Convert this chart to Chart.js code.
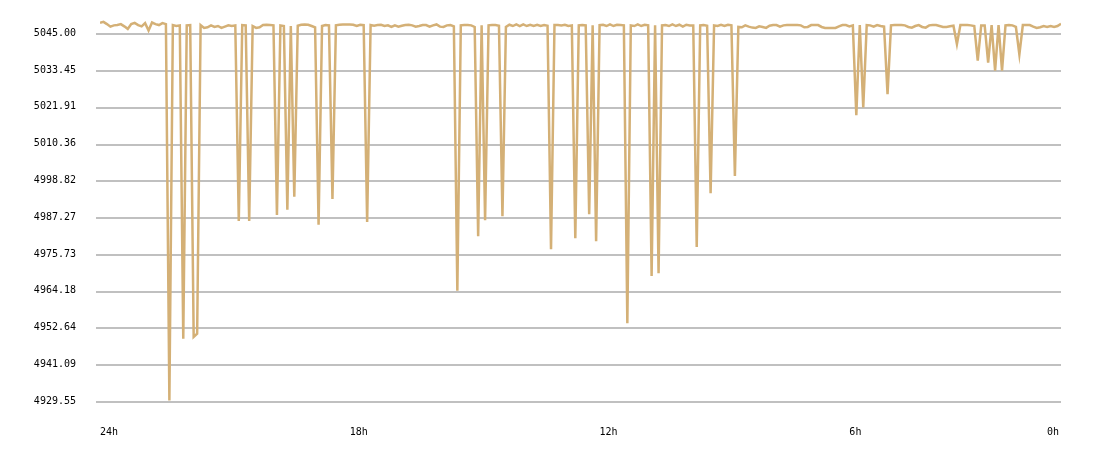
<!DOCTYPE html>
<html>
<head>
<meta charset="utf-8">
<script src="https://cdn.jsdelivr.net/npm/chart.js@4"></script>
<style>
  html, body { margin: 0; padding: 0; background: #fff; }
  #chart { display: block; }
</style>
</head>
<body>
<canvas id="chart" width="1100" height="458"></canvas>
<script>
// one reading every 5 minutes, oldest first
const values = [
  5048.6, 5048.9, 5048.2, 5047.4, 5047.8, 5047.9, 5048.2, 5047.5, 5046.7, 5048.2,
  5048.6, 5047.9, 5047.5, 5048.5, 5046.2, 5048.7, 5048.2, 5047.9, 5048.5, 5048.2,
  4930.0, 5047.9, 5047.6, 5047.8, 4949.4, 5047.8, 5047.9, 4950.0, 4951.0, 5047.9,
  5047.0, 5047.2, 5047.8, 5047.3, 5047.6, 5047.0, 5047.4, 5047.8, 5047.6, 5047.8,
  4986.4, 5047.9, 5047.8, 4986.4, 5047.6, 5047.0, 5047.2, 5047.9, 5048.0, 5047.9,
  5047.8, 4988.3, 5047.8, 5047.6, 4989.9, 5047.6, 4994.0, 5047.7, 5048.0, 5048.1,
  5048.0, 5047.6, 5047.2, 4985.2, 5047.6, 5047.9, 5047.8, 4993.3, 5047.8, 5048.0,
  5048.1, 5048.1, 5048.1, 5048.0, 5047.6, 5048.0, 5047.9, 4986.1, 5047.9, 5047.7,
  5047.9, 5048.0, 5047.6, 5047.8, 5047.3, 5047.8, 5047.4, 5047.7, 5047.9, 5048.0,
  5047.8, 5047.4, 5047.6, 5047.9, 5047.9, 5047.4, 5047.8, 5048.1, 5047.4, 5047.3,
  5047.8, 5047.9, 5047.5, 4964.5, 5047.8, 5047.9, 5047.9, 5047.8, 5047.3, 4981.6,
  5047.8, 4986.6, 5047.8, 5047.9, 5047.9, 5047.7, 4987.9, 5047.3, 5048.0, 5047.6,
  5048.1, 5047.6, 5048.1, 5047.6, 5048.0, 5047.6, 5048.0, 5047.6, 5047.9, 5047.7,
  4977.5, 5047.9, 5047.9, 5047.8, 5048.0, 5047.6, 5047.8, 4981.0, 5047.8, 5047.9,
  5047.8, 4988.5, 5047.8, 4980.0, 5047.9, 5048.0, 5047.6, 5048.1, 5047.6, 5048.0,
  5047.9, 5047.8, 4954.3, 5047.8, 5047.6, 5048.1, 5047.6, 5048.0, 5047.8, 4969.1,
  5047.8, 4970.0, 5047.8, 5047.9, 5047.6, 5048.1, 5047.6, 5048.0, 5047.4, 5048.0,
  5047.8, 5047.8, 4978.2, 5047.8, 5047.9, 5047.7, 4995.1, 5047.8, 5047.6, 5048.0,
  5047.6, 5048.0, 5047.8, 5000.5, 5047.3, 5047.2, 5047.8, 5047.4, 5047.1, 5047.0,
  5047.5, 5047.3, 5047.0, 5047.7, 5047.9, 5047.9, 5047.4, 5047.8, 5047.9, 5047.9,
  5047.9, 5047.9, 5047.8, 5047.2, 5047.3, 5047.9, 5047.9, 5047.9, 5047.3, 5047.0,
  5047.0, 5047.0, 5047.0, 5047.5, 5047.9, 5047.9, 5047.5, 5047.8, 5019.6, 5047.9,
  5022.0, 5047.9, 5047.8, 5047.4, 5047.9, 5047.6, 5047.4, 5026.2, 5047.8, 5047.9,
  5047.9, 5047.9, 5047.8, 5047.3, 5047.1, 5047.6, 5047.9, 5047.3, 5047.1, 5047.8,
  5047.9, 5047.9, 5047.6, 5047.3, 5047.3, 5047.5, 5047.7, 5041.9, 5047.9, 5047.9,
  5047.9, 5047.8, 5047.6, 5036.7, 5047.8, 5047.8, 5036.1, 5047.9, 5033.6, 5047.9,
  5033.6, 5047.8, 5047.9, 5047.8, 5047.3, 5038.7, 5047.9, 5047.9, 5047.9, 5047.4,
  5047.0, 5047.2, 5047.6, 5047.3, 5047.6, 5047.3, 5047.6, 5048.3
];
const stepMinutes = 5;
const firstHoursAgo = 24;

const yTicks = [5045.00, 5033.45, 5021.91, 5010.36, 4998.82, 4987.27, 4975.73, 4964.18, 4952.64, 4941.09, 4929.55];
const yMin = 4929.55;
const yMax = 5052;

const xTickHours = [24, 18, 12, 6, 0];
const xTickLabels = ['24h', '18h', '12h', '6h', '0h'];

const lineColor = '#d4b076';
const gridColor = '#c0c0c0';
const font = { family: "'DejaVu Sans Mono', monospace", size: 10 };

// x = hours ago
const points = values.map((v, i) => ({ x: firstHoursAgo - i * stepMinutes / 60, y: v }));

const ctx = document.getElementById('chart').getContext('2d');
new Chart(ctx, {
    type: 'line',
    data: {
        datasets: [{
            data: points,
            borderColor: lineColor,
            borderWidth: 2.5,
            pointRadius: 0,
            tension: 0,
            fill: false
        }]
    },
    options: {
        responsive: false,
        animation: false,
        devicePixelRatio: 1,
        layout: { padding: { top: 12, right: 39, bottom: 0, left: 0 } },
        plugins: {
            legend: { display: false },
            tooltip: { enabled: false }
        },
        scales: {
            x: {
                type: 'linear',
                reverse: true,
                min: points[points.length - 1].x,
                max: firstHoursAgo,
                grid: { display: false, drawTicks: false },
                border: { display: false },
                ticks: {
                    autoSkip: false,
                    maxRotation: 0,
                    align: 'start',
                    padding: 24,
                    color: '#000',
                    font: font,
                    callback: (value, index) => xTickLabels[index]
                },
                afterBuildTicks: (scale) => {
                    // the last label is pulled back inside the plot
                    const room = 14 * (scale.max - scale.min) / scale.width;
                    scale.ticks = xTickHours.map(h => ({ value: Math.max(h, scale.min + room) }));
                },
                afterFit: (scale) => {
                    scale.height = 56;
                    scale.paddingLeft = 0;
                    scale.paddingRight = 0;
                }
            },
            y: {
                min: yMin,
                max: yMax,
                grid: { color: gridColor, lineWidth: 2, drawTicks: true, tickLength: 4 },
                border: { display: false },
                ticks: {
                    padding: 20,
                    labelOffset: -1,
                    color: '#000',
                    font: font,
                    callback: (value) => Number(value).toFixed(2)
                },
                afterBuildTicks: (scale) => {
                    scale.ticks = yTicks.map(v => ({ value: v }));
                },
                afterFit: (scale) => {
                    scale.width = 100;
                    // tick padding should not push the plot down
                    scale.paddingTop = 0;
                    scale.paddingBottom = 0;
                }
            }
        }
    }
});
</script>
</body>
</html>
